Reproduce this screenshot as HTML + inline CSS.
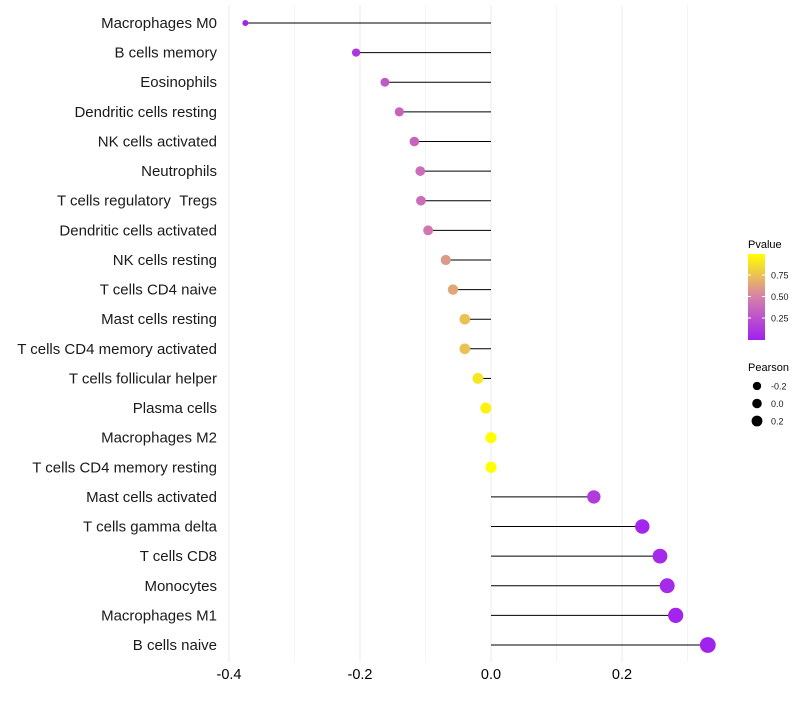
<!DOCTYPE html>
<html><head><meta charset="utf-8"><style>
body{margin:0;background:#fff;font-family:"Liberation Sans",sans-serif}
</style></head><body>
<svg id="c" width="800" height="700" xmlns="http://www.w3.org/2000/svg"></svg>
<script>
const categories=["Macrophages M0","B cells memory","Eosinophils","Dendritic cells resting","NK cells activated","Neutrophils","T cells regulatory \u00a0Tregs","Dendritic cells activated","NK cells resting","T cells CD4 naive","Mast cells resting","T cells CD4 memory activated","T cells follicular helper","Plasma cells","Macrophages M2","T cells CD4 memory resting","Mast cells activated","T cells gamma delta","T cells CD8","Monocytes","Macrophages M1","B cells naive"];
const pearson=[-0.375,-0.206,-0.162,-0.140,-0.117,-0.108,-0.107,-0.096,-0.069,-0.058,-0.040,-0.040,-0.020,-0.008,0.0,0.0,0.157,0.231,0.258,0.269,0.282,0.331];
const pvalue=[0.01,0.12,0.3,0.35,0.35,0.4,0.4,0.45,0.6,0.65,0.75,0.75,0.9,0.95,1.0,1.0,0.15,0.03,0.05,0.05,0.02,0.01];
const xTicks=[-0.4,-0.2,0.0,0.2];
const xMinor=[-0.3,-0.1,0.1,0.3];
const pTicks=[0.25,0.5,0.75];
const sizeTicks=[-0.2,0.0,0.2];
const NS="http://www.w3.org/2000/svg";
const svg=document.getElementById('c');
const X=v=>491+v*655;
const Y=i=>23+i*(645-23)/21;
const R=v=>Math.max(1.8,5.6+7*v);
function col(p){
  const a=[160,32,240],m=[214,128,170],b=[255,255,0];
  let c;
  if(p<0.5){const t=p/0.5;c=a.map((x,k)=>Math.round(x+(m[k]-x)*t));}
  else{const t=(p-0.5)/0.5;c=m.map((x,k)=>Math.round(x+(b[k]-x)*t));}
  return `rgb(${c})`;
}
function el(t,at){const e=document.createElementNS(NS,t);for(const k in at)e.setAttribute(k,at[k]);svg.appendChild(e);return e;}
xMinor.forEach(v=>{const l=el('line',{x1:X(v),x2:X(v),y1:5,y2:662,stroke:'#f4f4f4','stroke-width':1});

});
xTicks.forEach(v=>{const l=el('line',{x1:X(v),x2:X(v),y1:5,y2:662,stroke:'#ebebeb','stroke-width':1});


const t=el('text',{x:X(v),y:679,'text-anchor':'middle','font-size':14.5,fill:'#000'});t.textContent=v.toFixed(1);

});
categories.forEach((c,i)=>{
  const t=el('text',{x:217,y:Y(i)+5,'text-anchor':'end','font-size':15,fill:'#1a1a1a'});t.textContent=c;
  
  
  const l=el('line',{x1:X(0),x2:X(pearson[i]),y1:Y(i),y2:Y(i),stroke:'#000','stroke-width':1});
  
  
  const d=el('circle',{cx:X(pearson[i]),cy:Y(i),r:R(pearson[i]),fill:col(pvalue[i])});
  
  
});
const defs=el('defs',{});
const g=document.createElementNS(NS,'linearGradient');g.setAttribute('id','pg');g.setAttribute('x1','0');g.setAttribute('y1','1');g.setAttribute('x2','0');g.setAttribute('y2','0');
[0,0.25,0.5,0.75,1].forEach(p=>{const s=document.createElementNS(NS,'stop');s.setAttribute('offset',p);s.setAttribute('stop-color',col(p));g.appendChild(s);});
defs.appendChild(g);
const lt=el('text',{x:748,y:248,'font-size':11,fill:'#000'});lt.textContent='Pvalue';


const bar=el('rect',{x:748,y:254,width:17,height:86,fill:'url(#pg)'});


const PY=p=>339.5-p*86;
pTicks.forEach(p=>{
  el('line',{x1:748,x2:751,y1:PY(p),y2:PY(p),stroke:'#fff'});el('line',{x1:762,x2:765,y1:PY(p),y2:PY(p),stroke:'#fff'});
  const t=el('text',{x:771,y:PY(p)+3.5,'font-size':9,fill:'#1a1a1a'});t.textContent=p.toFixed(2);
  
  
});
const st=el('text',{x:748,y:371,'font-size':11,fill:'#000'});st.textContent='Pearson';


sizeTicks.forEach((v,k)=>{
  const y=386+k*17.5;
  const c=el('circle',{cx:757,cy:y,r:4.8+8*v/2.6,fill:'#000'});
  
  
  const t=el('text',{x:771,y:y+3.5,'font-size':9,fill:'#1a1a1a'});t.textContent=v.toFixed(1);
  
  
});
</script>
</body></html>
